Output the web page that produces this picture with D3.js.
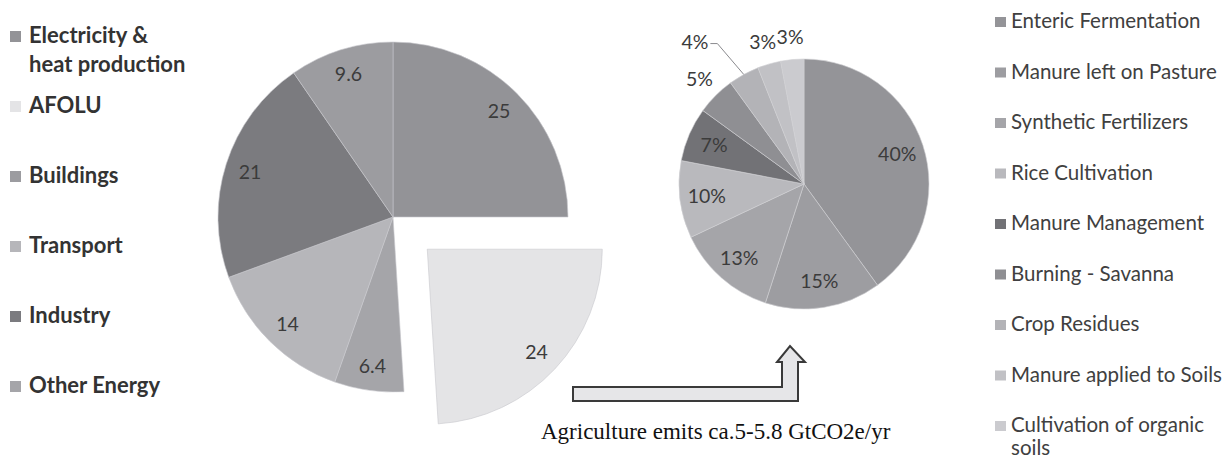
<!DOCTYPE html>
<html>
<head>
<meta charset="utf-8">
<script src="https://cdn.jsdelivr.net/npm/d3@7"></script>
<style>
  html, body { margin: 0; padding: 0; background: #ffffff; }
  svg { display: block; }
</style>
</head>
<body>
<svg id="chart" width="1225" height="458"></svg>
<script>
// ---- Data ----
// Left pie: global GHG emissions by sector (%), in drawing order (clockwise from 12 o'clock)
const sectorNames  = ["Electricity & heat production", "AFOLU", "Other Energy", "Transport", "Industry", "Buildings"];
const sectorValues = [25, 24, 6.4, 14, 21, 9.6];
const sectorLabels = ["25", "24", "6.4", "14", "21", "9.6"];
// Legend order of the left pie
const sectorLegend = ["Electricity &\nheat production", "AFOLU", "Buildings", "Transport", "Industry", "Other Energy"];
const sectorLegendKey = ["Electricity & heat production", "AFOLU", "Buildings", "Transport", "Industry", "Other Energy"];
const explodedSector = "AFOLU";

// Right pie: agriculture emissions by source (%)
const agriNames  = ["Enteric Fermentation", "Manure left on Pasture", "Synthetic Fertilizers", "Rice Cultivation",
                    "Manure Management", "Burning - Savanna", "Crop Residues", "Manure applied to Soils",
                    "Cultivation of organic soils"];
const agriShares = [40, 15, 13, 10, 7, 5, 4, 3, 3];
const agriLegend = ["Enteric Fermentation", "Manure left on Pasture", "Synthetic Fertilizers", "Rice Cultivation",
                    "Manure Management", "Burning - Savanna", "Crop Residues", "Manure applied to Soils",
                    "Cultivation of organic\nsoils"];

const caption = "Agriculture emits ca.5-5.8 GtCO2e/yr";

// ---- Styles ----
const sectorColors = d3.scaleOrdinal()
  .domain(["Electricity & heat production", "AFOLU", "Buildings", "Transport", "Industry", "Other Energy"])
  .range(["#939397", "#e4e4e6", "#9c9ca0", "#b6b6ba", "#7b7b7f", "#a5a5a9"]);
const agriColors = d3.scaleOrdinal()
  .domain(agriNames)
  .range(["#949498", "#9d9da1", "#a5a5a9", "#b9b9bd", "#727276", "#8f8f93", "#b3b3b7", "#c1c1c5", "#cbcbcf"]);

const svg = d3.select("#chart");
const FONT = "Lato, 'Open Sans', sans-serif";
const TEXT = "#3b3b3b";

// ---- Left pie ----
const L = { cx: 393, cy: 217, r: 175, labelR: 150, explode: 47 };
const pieL = d3.pie().sort(null).value(d => d.v);
const arcsL = pieL(sectorNames.map((n, i) => ({ n, v: sectorValues[i], lab: sectorLabels[i] })));
const arcL = d3.arc().innerRadius(0).outerRadius(L.r);
const labArcL = d3.arc().innerRadius(L.labelR).outerRadius(L.labelR);

const gL = svg.append("g").attr("transform", `translate(${L.cx},${L.cy})`);
const sliceL = gL.selectAll("g.slice").data(arcsL).join("g")
  .attr("class", "slice")
  .attr("transform", d => {
    if (d.data.n !== explodedSector) return null;
    const a = (d.startAngle + d.endAngle) / 2;
    return `translate(${Math.sin(a) * L.explode},${-Math.cos(a) * L.explode})`;
  });
sliceL.append("path")
  .attr("d", arcL)
  .attr("fill", d => sectorColors(d.data.n))
  .attr("stroke", "#c8c8cc")
  .attr("stroke-width", 0.6);
sliceL.append("text")
  .attr("transform", d => `translate(${labArcL.centroid(d)})`)
  .attr("text-anchor", "middle")
  .attr("dy", "0.36em")
  .attr("font-family", FONT)
  .attr("font-size", 19.5)
  .attr("fill", TEXT)
  .text(d => d.data.lab);

// ---- Right pie ----
const R = { cx: 804, cy: 184, r: 125, inR: 98, outR: 148 };
const pieR = d3.pie().sort(null).value(d => d.v);
const arcsR = pieR(agriNames.map((n, i) => ({ n, v: agriShares[i] })));
const arcR = d3.arc().innerRadius(0).outerRadius(R.r);
const gR = svg.append("g").attr("transform", `translate(${R.cx},${R.cy})`);
gR.selectAll("path").data(arcsR).join("path")
  .attr("d", arcR)
  .attr("fill", d => agriColors(d.data.n))
  .attr("stroke", "#d0d0d4")
  .attr("stroke-width", 0.6);

function polar(angle, radius) { return [Math.sin(angle) * radius, -Math.cos(angle) * radius]; }

arcsR.forEach(d => {
  const a = (d.startAngle + d.endAngle) / 2;
  const lab = d.data.v + "%";
  const t = gR.append("text")
    .attr("font-family", FONT).attr("font-size", 19.5).attr("fill", TEXT)
    .attr("dy", "0.36em").text(lab);
  if (d.data.v >= 7) {
    const [x, y] = polar(a, R.inR);
    t.attr("x", x).attr("y", y).attr("text-anchor", "middle");
  } else if (d.data.n === "Crop Residues") {
    // label with leader line
    const p0 = polar(a, R.r);
    const p1 = polar(a - 0.05, R.r + 40);
    const p2 = [p1[0] - 7, p1[1]];
    gR.append("polyline")
      .attr("points", [p0, p1, p2].map(p => p.join(",")).join(" "))
      .attr("fill", "none").attr("stroke", "#8a8a8e").attr("stroke-width", 1);
    t.attr("x", p2[0] - 2).attr("y", p2[1] - 2).attr("text-anchor", "end");
  } else {
    const [x, y] = polar(a, R.outR);
    t.attr("x", x).attr("y", y).attr("text-anchor", "middle");
  }
});

// ---- Left legend ----
const legL = svg.append("g").attr("font-family", FONT).attr("font-weight", 700).attr("font-size", 22).attr("fill", "#333333");
sectorLegend.forEach((lab, i) => {
  const base = 43 + i * 70;
  legL.append("rect").attr("x", 10).attr("y", base - 12).attr("width", 11).attr("height", 11)
    .attr("fill", sectorColors(sectorLegendKey[i]));
  const t = legL.append("text").attr("x", 29).attr("y", base);
  lab.split("\n").forEach((line, j) => {
    t.append("tspan").attr("x", 29).attr("dy", j === 0 ? 0 : 29).text(line);
  });
});

// ---- Right legend ----
const legR = svg.append("g").attr("font-family", FONT).attr("font-size", 20.5).attr("fill", "#404040");
agriLegend.forEach((lab, i) => {
  const base = 28 + i * 50.5;
  legR.append("rect").attr("x", 995).attr("y", base - 11).attr("width", 11).attr("height", 10)
    .attr("fill", agriColors(agriNames[i]));
  const t = legR.append("text").attr("x", 1011).attr("y", base);
  lab.split("\n").forEach((line, j) => {
    t.append("tspan").attr("x", 1011).attr("dy", j === 0 ? 0 : 23).text(line);
  });
});

// ---- Arrow (from exploded AFOLU slice to agriculture pie) ----
const A = { x0: 573, yTop: 387, yBot: 401, shaftL: 782, shaftR: 798, headY: 362, headL: 777, headR: 805, tipX: 790, tipY: 346 };
const arrowPts = [
  [A.x0, A.yTop], [A.shaftL, A.yTop], [A.shaftL, A.headY], [A.headL, A.headY], [A.tipX, A.tipY],
  [A.headR, A.headY], [A.shaftR, A.headY], [A.shaftR, A.yBot], [A.x0, A.yBot]
];
svg.append("path")
  .attr("d", d3.line()(arrowPts) + "Z")
  .attr("fill", "#e6e6e8")
  .attr("stroke", "#3a3a3a")
  .attr("stroke-width", 2)
  .attr("stroke-linejoin", "miter");

// ---- Caption ----
svg.append("text")
  .attr("x", 541).attr("y", 439)
  .attr("font-family", "'Liberation Serif', 'Times New Roman', serif")
  .attr("font-size", 23)
  .attr("fill", "#111111")
  .text(caption);
</script>
</body>
</html>
